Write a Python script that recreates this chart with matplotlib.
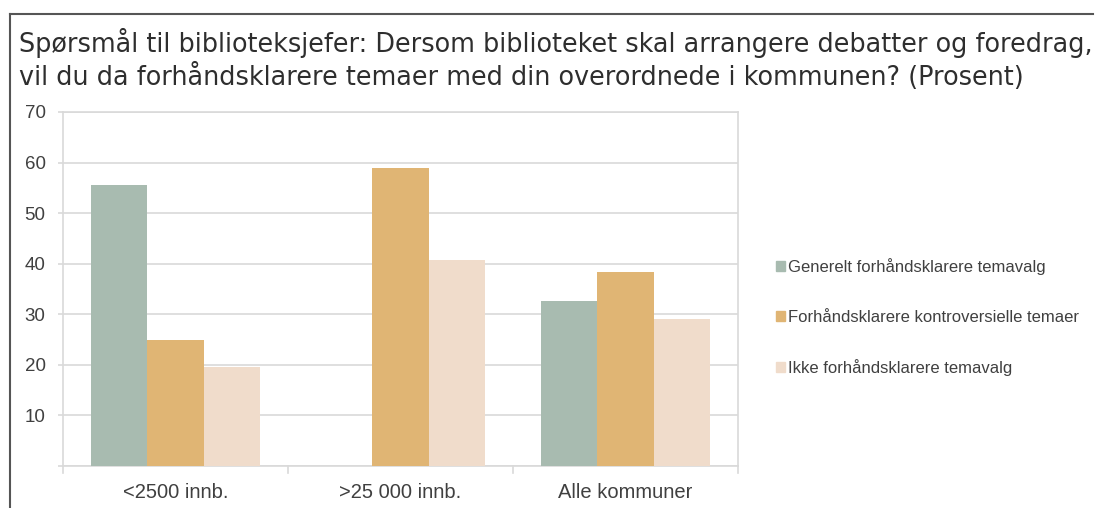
import numpy as np
import matplotlib.pyplot as plt
from matplotlib.lines import Line2D

categories = ['<2500 innb.', '>25 000 innb.', 'Alle kommuner']
series = ['Generelt forhåndsklarere temavalg',
          'Forhåndsklarere kontroversielle temaer',
          'Ikke forhåndsklarere temavalg']
generelt = [55.5, 0, 32.6]
kontroversielle = [25.0, 59.0, 38.3]
ikke = [19.5, 40.8, 29.1]
yticks = [0, 10, 20, 30, 40, 50, 60, 70]
ytick_labels = ['', '10', '20', '30', '40', '50', '60', '70']

colors = ['#a8bbb0', '#e0b574', '#f0dccb']
grid_col = '#d9d9d9'
text_col = '#404040'

fig = plt.figure(figsize=(10.95, 5.08), dpi=100)
W, H = 1095, 508
ax = fig.add_axes([63 / W, 1 - 466 / H, (738 - 63) / W, (466 - 112) / H])

x = np.arange(len(categories))
w = 0.249
for i, vals in enumerate([generelt, kontroversielle, ikke]):
    ax.bar(x + (i - 1) * w, vals, w, color=colors[i], label=series[i], zorder=3)

ax.set_xlim(-0.5, 2.5)
ax.set_ylim(0, 70)
ax.set_yticks(yticks)
ax.set_yticklabels(ytick_labels)
ax.yaxis.grid(True, color=grid_col, lw=1.2, zorder=0)
ax.set_xticks(x)
ax.set_xticklabels(categories)
ax.tick_params(axis='x', length=0, pad=12, labelsize=14.5, labelcolor=text_col)
ax.tick_params(axis='y', length=3.6, width=1.2, color=grid_col, pad=9, labelsize=13.5, labelcolor=text_col)
for lbl in ax.get_xticklabels() + ax.get_yticklabels():
    lbl.set_fontfamily('Liberation Sans')
for s in ax.spines.values():
    s.set_color(grid_col)
    s.set_linewidth(1.2)
# category boundary ticks below the axis
for b in [-0.5, 0.5, 1.5, 2.5]:
    ax.plot([b, b], [0, -1.3], color=grid_col, lw=1.2, clip_on=False, zorder=1)

handles = [plt.Rectangle((0, 0), 1, 1, color=c) for c in colors]
leg = fig.legend(handles, series, loc='center left', bbox_to_anchor=(761 / W, 1 - 317 / H),
                 frameon=False, prop={'family': 'Liberation Sans', 'size': 12.0},
                 handlelength=0.55, handleheight=0.55, handletextpad=0.2, labelspacing=2.05)
for t in leg.get_texts():
    t.set_color(text_col)

title = ('Spørsmål til biblioteksjefer: Dersom biblioteket skal arrangere debatter og foredrag,\n'
         'vil du da forhåndsklarere temaer med din overordnede i kommunen? (Prosent)')
fig.text(19 / W, 1 - 28 / H, title, ha='left', va='top', fontsize=18.4, color='#2e2e2e',
         family='DejaVu Sans', linespacing=1.24)

# outer frame (top and left)
fig.add_artist(Line2D([9.5 / W, 9.5 / W], [0, 1 - 13.5 / H], color='#555555', lw=1.5))
fig.add_artist(Line2D([9.5 / W, 1093 / W], [1 - 13.5 / H, 1 - 13.5 / H], color='#555555', lw=1.5))

fig.savefig('out.png', dpi=100)
